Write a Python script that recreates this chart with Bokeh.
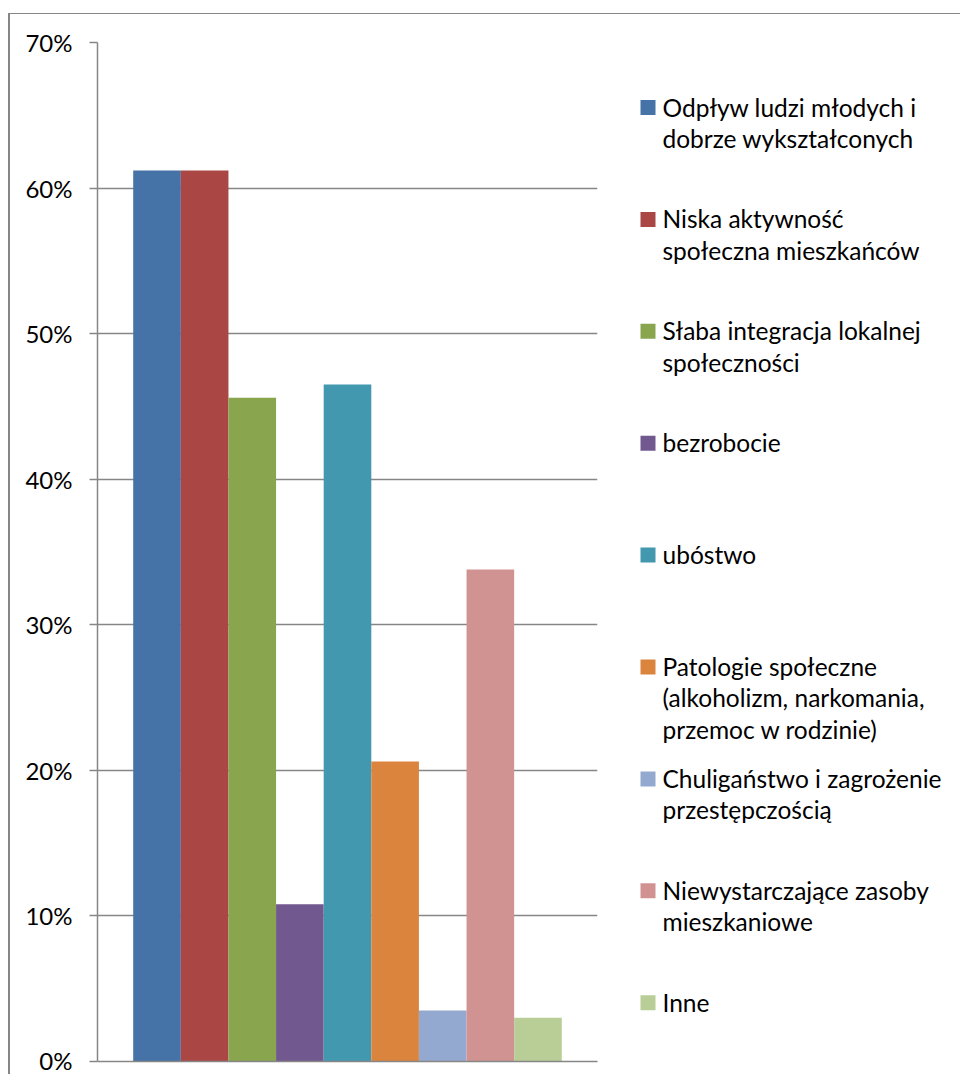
from bokeh.plotting import figure
from bokeh.layouts import row
from bokeh.models import Range1d, FixedTicker
from bokeh.core.properties import value
from bokeh.embed import file_html
from bokeh.resources import INLINE

# ---- data ----
categories = [
    "Odpływ  ludzi młodych i\ndobrze wykształconych",
    "Niska aktywność\nspołeczna mieszkańców",
    "Słaba integracja lokalnej\nspołeczności",
    "bezrobocie",
    "ubóstwo",
    "Patologie społeczne\n(alkoholizm, narkomania,\nprzemoc w rodzinie)",
    "Chuligaństwo i zagrożenie\nprzestępczością",
    "Niewystarczające zasoby\nmieszkaniowe",
    "Inne",
]
values = [0.612, 0.612, 0.456, 0.108, 0.465, 0.206, 0.035, 0.338, 0.030]
colors = ["#4572A7", "#AA4643", "#89A54E", "#71588F", "#4198AF",
          "#DB843D", "#93A9CF", "#D19392", "#B9CD96"]
y_ticks = [0.0, 0.1, 0.2, 0.3, 0.4, 0.5, 0.6, 0.7]
tick_labels = ["0%", "10%", "20%", "30%", "40%", "50%", "60%", "70%"]

FONT = "Lato"
GRID = "#868686"

FRAME_H = 1019
TOP, BOTTOM = 28, 13

# ---- main chart ----
n = len(values)
gap = 1.5                      # Excel-like gap width (fraction of bar width)
w = 1.0 / (n + gap)
xs = [0.5 + (i - (n - 1) / 2) * w for i in range(n)]

p = figure(frame_width=500, frame_height=FRAME_H,
           x_range=Range1d(0, 1), y_range=Range1d(0, 0.7),
           min_border_left=87, min_border_right=3,
           min_border_top=TOP, min_border_bottom=BOTTOM,
           output_backend="svg", toolbar_location=None,
           x_axis_location="below")
p.outline_line_color = None
p.background_fill_color = "white"
p.border_fill_color = "white"

p.vbar(x=xs, top=values, width=w, bottom=0, fill_color=colors, line_color=None)

yax = p.yaxis[0]
yax.ticker = FixedTicker(ticks=y_ticks)
yax.major_label_overrides = {t: l for t, l in zip(y_ticks, tick_labels)}
yax.major_label_text_font = FONT
yax.major_label_text_font_size = "24px"
yax.major_label_text_color = "#000000"
yax.major_label_standoff = 17
yax.major_tick_in = 0
yax.major_tick_out = 8
yax.minor_tick_line_color = None
yax.axis_line_color = GRID
yax.axis_line_width = 1.5
yax.major_tick_line_color = GRID
yax.major_tick_line_width = 1.5

xax = p.xaxis[0]
xax.ticker = FixedTicker(ticks=[])
xax.major_tick_in = 0
xax.major_tick_out = 0
xax.minor_tick_line_color = None
xax.major_label_text_font_size = "0px"
xax.axis_line_color = GRID
xax.axis_line_width = 1.5

p.xgrid.grid_line_color = None
p.ygrid.ticker = FixedTicker(ticks=y_ticks)
p.ygrid.grid_line_color = GRID
p.ygrid.grid_line_width = 1.3

# ---- legend panel (pixel-like coordinates, measured from frame top) ----
LEG_W = 360
leg = figure(frame_width=LEG_W, frame_height=FRAME_H,
             x_range=Range1d(0, LEG_W), y_range=Range1d(FRAME_H, 0),
             min_border_left=0, min_border_right=0,
             min_border_top=TOP, min_border_bottom=BOTTOM,
             output_backend="svg", toolbar_location=None,
             x_axis_location=None, y_axis_location=None)
leg.outline_line_color = None
leg.xgrid.grid_line_color = None
leg.ygrid.grid_line_color = None
leg.border_fill_color = "white"

leg_top, leg_step = 65.0, 111.9
ys = [leg_top + i * leg_step for i in range(n)]
leg.rect(x=[47.5] * n, y=ys, width=15, height=15,
         fill_color=colors, line_color=None)
leg.text(x=[62] * n, y=[y - 15 for y in ys], text=categories,
         text_font=value(FONT), text_font_size="24.5px",
         text_baseline="top", text_align="left",
         text_line_height=1.08, text_color="#000000")

layout = row(p, leg, styles={"border-left": "2px solid #868686",
                             "border-top": "1.5px solid #868686",
                             "margin-top": "12.5px",
                             "margin-left": "8px"})

open("out.html", "w").write(file_html(layout, INLINE))
